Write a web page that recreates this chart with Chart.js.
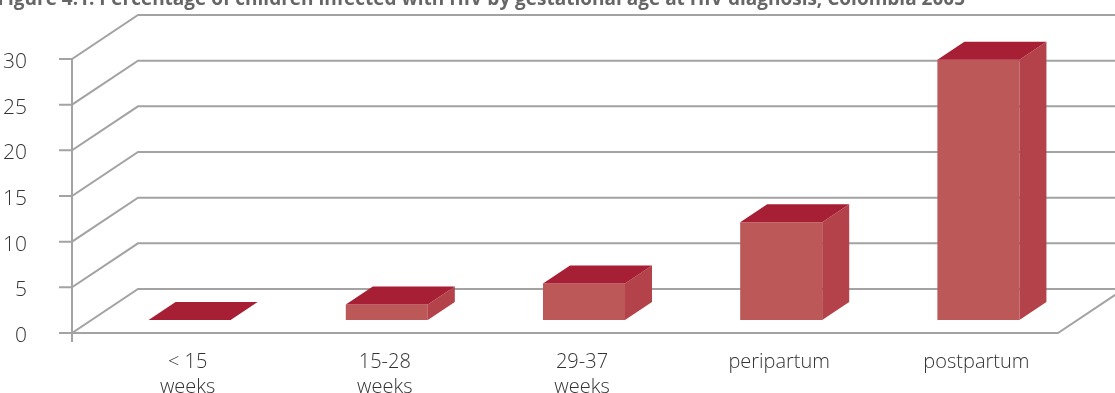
<!DOCTYPE html>
<html>
<head>
<meta charset="utf-8">
<title>Children infected with HIV by gestational age</title>
<script src="https://cdn.jsdelivr.net/npm/chart.js@4.4.0/dist/chart.umd.min.js"></script>
<style>
  html, body { margin: 0; padding: 0; background: #fff; }
  #wrap { width: 1115px; height: 393px; position: relative; }
</style>
</head>
<body>
<div id="wrap"><canvas id="chart"></canvas></div>
<script>
// data
const categories = [["< 15", "weeks"], ["15-28", "weeks"], ["29-37", "weeks"], "peripartum", "postpartum"];
const percentages = [0, 1.7, 4.0, 10.7, 28.5];
const yTicks = [0, 5, 10, 15, 20, 25, 30];
const titleText = "Figure 4.1: Percentage of children infected with HIV by gestational age at HIV diagnosis, Colombia 2005";

// fake 3D geometry (px)
const WALL_DX = 66, WALL_DY = -44;      // back wall offset from front plane
const BAR_DX = 19, BAR_DY = -13;        // bar front face sits a bit behind front plane
const DEPTH_DX = 27, DEPTH_DY = -18;    // bar depth
const GRID = "#a3a3a3";
const FRONT = "#bc5858", SIDE = "#b3424a", TOP = "#a61f34";
const FONT = "'Open Sans', 'DejaVu Sans', sans-serif";

function poly(ctx, pts, color) {
  ctx.beginPath();
  ctx.moveTo(pts[0][0], pts[0][1]);
  for (let i = 1; i < pts.length; i++) ctx.lineTo(pts[i][0], pts[i][1]);
  ctx.closePath();
  ctx.fillStyle = color;
  ctx.fill();
}

// walls, floor and tick marks behind the bars
const wallPlugin = {
  id: "wall3d",
  beforeDatasetsDraw(chart) {
    const { ctx, chartArea: a } = chart;
    const y = chart.scales.y;
    ctx.save();
    ctx.strokeStyle = GRID;
    ctx.lineWidth = 2;
    ctx.beginPath();
    yTicks.forEach((v) => {
      const py = y.getPixelForValue(v);
      ctx.moveTo(a.left - 13, py);
      ctx.lineTo(a.left, py);
      ctx.lineTo(a.left + WALL_DX, py + WALL_DY);
      ctx.lineTo(a.right + WALL_DX, py + WALL_DY);
    });
    // floor front edge + right side
    ctx.moveTo(a.left, a.bottom);
    ctx.lineTo(a.right, a.bottom);
    ctx.lineTo(a.right + WALL_DX, a.bottom + WALL_DY);
    // vertical axis
    ctx.moveTo(a.left, a.top);
    ctx.lineTo(a.left, a.bottom + 9);
    ctx.stroke();
    ctx.restore();
  },
  afterDatasetsDraw(chart) {
    const ctx = chart.ctx;
    const meta = chart.getDatasetMeta(0);
    ctx.save();
    meta.data.forEach((bar) => {
      const p = bar.getProps(["x", "y", "base", "width"], true);
      const l = p.x - p.width / 2 + BAR_DX;
      const r = p.x + p.width / 2 + BAR_DX;
      const t = p.y + BAR_DY;
      const b = p.base + BAR_DY;
      ctx.fillStyle = FRONT;
      ctx.fillRect(l, t, r - l, b - t);
      poly(ctx, [[r, t], [r + DEPTH_DX, t + DEPTH_DY], [r + DEPTH_DX, b + DEPTH_DY], [r, b]], SIDE);
      poly(ctx, [[l, t], [l + DEPTH_DX, t + DEPTH_DY], [r + DEPTH_DX, t + DEPTH_DY], [r, t]], TOP);
    });
    ctx.restore();
  },
  afterDraw(chart) {
    // title runs off the top edge
    const ctx = chart.ctx;
    ctx.save();
    ctx.font = "bold 19px " + FONT;
    ctx.fillStyle = "#666666";
    ctx.textBaseline = "alphabetic";
    ctx.textAlign = "right";
    ctx.fillText(titleText, 965, 5);
    ctx.restore();
  }
};

new Chart(document.getElementById("chart"), {
  type: "bar",
  data: {
    labels: categories,
    datasets: [{
      data: percentages,
      backgroundColor: "rgba(0,0,0,0)",
      borderWidth: 0,
      categoryPercentage: 1,
      barPercentage: 0.416
    }]
  },
  options: {
    responsive: true,
    maintainAspectRatio: false,
    animation: false,
    layout: { padding: { top: 59, right: 57, left: 0, bottom: 0 } },
    plugins: { legend: { display: false }, tooltip: { enabled: false }, title: { display: false } },
    scales: {
      x: {
        grid: { display: false },
        border: { display: false },
        ticks: {
          color: "#333333",
          font: { family: FONT, size: 20, weight: 300, lineHeight: 1.25 },
          padding: 9,
          labelOffset: 17,   // labels sit under the bars, not the floor centre
          maxRotation: 0,
          autoSkip: false
        },
        afterFit: (s) => { s.height = 60; }
      },
      y: {
        min: 0,
        max: 30,
        grid: { display: false },
        border: { display: false },
        ticks: { stepSize: 5, color: "#333333", font: { family: FONT, size: 21, weight: 300 }, padding: 37, labelOffset: 3 },
        afterFit: (s) => { s.width = 72; }
      }
    }
  },
  plugins: [wallPlugin]
});
</script>
</body>
</html>
